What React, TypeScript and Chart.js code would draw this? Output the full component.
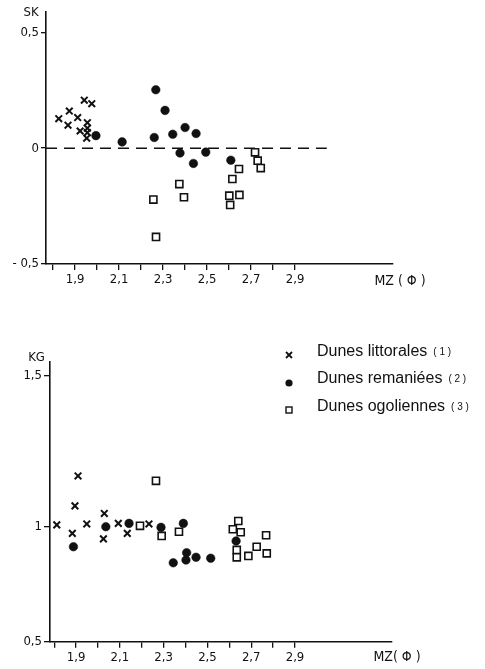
import React, { useEffect, useRef } from 'react';
import { Chart, registerables, LinearScale } from 'chart.js';

// ---------- DATA ----------
const MZ_TICKS = [1.8, 1.9, 2.0, 2.1, 2.2, 2.3, 2.4, 2.5, 2.6, 2.7, 2.8, 2.9];
const MZ_TICK_LABELS = ['', '1,9', '', '2,1', '', '2,3', '', '2,5', '', '2,7', '', '2,9'];
const SK_TICKS = [-0.5, 0, 0.5];
const SK_TICK_LABELS = ['- 0,5', '0', '0,5'];
const KG_TICKS = [0.5, 1, 1.5];
const KG_TICK_LABELS = ['0,5', '1', '1,5'];

const SERIES_NAMES = ['Dunes littorales', 'Dunes remaniées', 'Dunes ogoliennes'];
const SERIES_NUMS = ['( 1 )', '( 2 )', '( 3 )'];

// Graph 1: SK vs MZ
const SK_LITTORALES_MZ = [1.826, 1.874, 1.868, 1.912, 1.923, 1.942, 1.976, 1.956, 1.956, 1.956, 1.953];
const SK_LITTORALES_SK = [0.127, 0.160, 0.099, 0.132, 0.074, 0.207, 0.192, 0.110, 0.086, 0.067, 0.043];
const SK_REMANIEES_MZ = [1.995, 2.114, 2.267, 2.309, 2.26, 2.344, 2.4, 2.45, 2.377, 2.494, 2.438, 2.608];
const SK_REMANIEES_SK = [0.054, 0.027, 0.252, 0.163, 0.046, 0.060, 0.089, 0.063, -0.021, -0.017, -0.066, -0.052];
const SK_OGOLIENNES_MZ = [2.256, 2.268, 2.374, 2.395, 2.601, 2.605, 2.615, 2.645, 2.647, 2.718, 2.73, 2.744];
const SK_OGOLIENNES_SK = [-0.222, -0.383, -0.155, -0.212, -0.205, -0.245, -0.133, -0.09, -0.202, -0.018, -0.054, -0.086];
const SK_ZERO_LINE_MZ = [1.768, 3.044];

// Graph 2: KG vs MZ
const KG_LITTORALES_MZ = [1.812, 1.909, 1.895, 1.883, 1.949, 2.029, 2.025, 2.093, 2.134, 2.233];
const KG_LITTORALES_KG = [1.006, 1.168, 1.069, 0.971, 1.009, 1.044, 0.947, 1.011, 0.971, 1.009];
const KG_REMANIEES_MZ = [1.888, 2.036, 2.142, 2.288, 2.39, 2.344, 2.405, 2.402, 2.448, 2.515, 2.631];
const KG_REMANIEES_KG = [0.913, 1.0, 1.011, 0.997, 1.011, 0.843, 0.887, 0.855, 0.867, 0.863, 0.938];
const KG_OGOLIENNES_MZ = [2.192, 2.265, 2.291, 2.370, 2.641, 2.616, 2.652, 2.634, 2.634, 2.687, 2.725, 2.768, 2.771];
const KG_OGOLIENNES_KG = [1.003, 1.152, 0.960, 0.978, 1.019, 0.989, 0.976, 0.899, 0.867, 0.873, 0.913, 0.963, 0.884];

// The printed KG axis is drawn with a stretched upper part (1 -> 1,5 is longer than 0,5 -> 1)
const KG_BREAK = 1;
const KG_UPPER_STRETCH = 1.313;

const toVirtual = (v: number) => (v <= KG_BREAK ? v : KG_BREAK + (v - KG_BREAK) * KG_UPPER_STRETCH);
const fromVirtual = (v: number) => (v <= KG_BREAK ? v : KG_BREAK + (v - KG_BREAK) / KG_UPPER_STRETCH);

class KGScale extends LinearScale {
  static id = 'kgStretched';
  static defaults = LinearScale.defaults;
  getPixelForValue(value: any) {
    return super.getPixelForValue(toVirtual(value));
  }
  getValueForPixel(pixel: number) {
    return fromVirtual(super.getValueForPixel(pixel) as number);
  }
}

Chart.register(...registerables, KGScale);

const TICK_FONT = { family: "'Liberation Sans Narrow', 'DejaVu Sans Condensed', sans-serif", size: 13 };
const INK = '#111';

const zip = (xs: number[], ys: number[]) => xs.map((x, i) => ({ x, y: ys[i] }));

function seriesDatasets(lit: any[], rem: any[], ogo: any[]) {
  return [
    {
      label: SERIES_NAMES[0], data: lit, pointStyle: 'crossRot', pointRadius: 4.7,
      borderColor: INK, backgroundColor: INK, pointBorderWidth: 2, showLine: false,
    },
    {
      label: SERIES_NAMES[1], data: rem, pointStyle: 'circle', pointRadius: 4.3,
      borderColor: INK, backgroundColor: INK, pointBorderWidth: 0.5, showLine: false,
    },
    {
      label: SERIES_NAMES[2], data: ogo, pointStyle: 'rect', pointRadius: 5,
      borderColor: INK, backgroundColor: '#fff', pointBorderWidth: 1.6, showLine: false,
    },
  ];
}

function xScale(min: number, max: number, height: number) {
  return {
    type: 'linear', min, max,
    afterBuildTicks: (s: any) => { s.ticks = MZ_TICKS.map((v) => ({ value: v })); },
    afterFit: (s: any) => { s.height = height; },
    ticks: {
      autoSkip: false, maxRotation: 0, padding: 2, color: INK, font: TICK_FONT,
      callback: (_v: any, i: number) => MZ_TICK_LABELS[i],
    },
    grid: { drawOnChartArea: false, drawTicks: true, tickLength: 6, color: INK, tickColor: INK, lineWidth: 1.3 },
    border: { display: true, color: INK, width: 1.6 },
  };
}

function yTicks(labels: string[]) {
  return {
    autoSkip: false, padding: 2, color: INK, font: TICK_FONT,
    callback: (_v: any, i: number) => labels[i],
  };
}

const textPlugin = (id: string, items: { t: string; x: number; y: number; size: number }[]) => ({
  id,
  afterDraw(chart: any) {
    const ctx = chart.ctx;
    ctx.save();
    ctx.fillStyle = INK;
    ctx.textAlign = 'center';
    ctx.textBaseline = 'middle';
    items.forEach((it) => {
      ctx.font = `${it.size}px 'Liberation Sans Narrow', 'DejaVu Sans Condensed', sans-serif`;
      ctx.fillText(it.t, it.x, it.y);
    });
    ctx.restore();
  },
});

const legendPlugin = {
  id: 'paperLegend',
  afterDraw(chart: any) {
    const ctx = chart.ctx;
    const rows = [36, 63, 91];
    const mx = 289;
    ctx.save();
    ctx.fillStyle = INK;
    ctx.strokeStyle = INK;
    // markers
    ctx.lineWidth = 1.8;
    ctx.beginPath();
    ctx.moveTo(mx - 3, rows[0] - 4); ctx.lineTo(mx + 3, rows[0] + 2);
    ctx.moveTo(mx + 3, rows[0] - 4); ctx.lineTo(mx - 3, rows[0] + 2);
    ctx.stroke();
    ctx.beginPath();
    ctx.arc(mx, rows[1], 3.6, 0, Math.PI * 2);
    ctx.fill();
    ctx.lineWidth = 1.4;
    ctx.strokeRect(mx - 3, rows[2] - 4, 6, 6);
    // texts
    ctx.textAlign = 'left';
    ctx.textBaseline = 'alphabetic';
    rows.forEach((y, i) => {
      ctx.font = "16px 'Liberation Sans', Arial, sans-serif";
      ctx.fillText(SERIES_NAMES[i], 317, y);
      const w = ctx.measureText(SERIES_NAMES[i]).width;
      ctx.font = "10px 'Liberation Sans', Arial, sans-serif";
      ctx.fillText(SERIES_NUMS[i], 317 + w + 6, y - 1);
    });
    ctx.restore();
  },
};

function ChartCanvas({ config, width, height, top }: any) {
  const ref = useRef<HTMLCanvasElement>(null);
  useEffect(() => {
    const chart = new Chart(ref.current as HTMLCanvasElement, config);
    return () => chart.destroy();
  }, []);
  return (
    <canvas
      ref={ref}
      width={width}
      height={height}
      style={{ position: 'absolute', left: 0, top, width, height }}
    />
  );
}

export default function App() {
  const skConfig: any = {
    type: 'scatter',
    data: {
      datasets: [
        {
          type: 'line', label: 'zero', data: zip(SK_ZERO_LINE_MZ, [0, 0]), borderColor: INK,
          borderWidth: 1.5, borderDash: [11, 7], pointRadius: 0, showLine: true,
        },
        ...seriesDatasets(
          zip(SK_LITTORALES_MZ, SK_LITTORALES_SK),
          zip(SK_REMANIEES_MZ, SK_REMANIEES_SK),
          zip(SK_OGOLIENNES_MZ, SK_OGOLIENNES_SK),
        ),
      ],
    },
    options: {
      responsive: false, animation: false, devicePixelRatio: 1,
      layout: { padding: { top: 12, right: 92, bottom: 0, left: 0 } },
      plugins: { legend: { display: false }, tooltip: { enabled: false } },
      scales: {
        x: xScale(1.768, 3.345, 36),
        y: {
          type: 'linear', min: -0.5, max: 0.5876,
          afterBuildTicks: (s: any) => { s.ticks = SK_TICKS.map((v) => ({ value: v })); },
          afterFit: (s: any) => { s.width = 46; },
          ticks: yTicks(SK_TICK_LABELS),
          grid: { drawOnChartArea: false, drawTicks: true, tickLength: 5, color: INK, tickColor: INK, lineWidth: 1.3 },
          border: { display: true, color: INK, width: 1.6 },
        },
      },
    },
    plugins: [textPlugin('skTitles', [
      { t: 'SK', x: 31, y: 13, size: 13 },
      { t: 'MZ ( Φ )', x: 400, y: 281, size: 14 },
    ])],
  };

  const kgConfig: any = {
    type: 'scatter',
    data: {
      datasets: seriesDatasets(
        zip(KG_LITTORALES_MZ, KG_LITTORALES_KG),
        zip(KG_REMANIEES_MZ, KG_REMANIEES_KG),
        zip(KG_OGOLIENNES_MZ, KG_OGOLIENNES_KG),
      ),
    },
    options: {
      responsive: false, animation: false, devicePixelRatio: 1,
      layout: { padding: { top: 41.7, right: 93, bottom: 0, left: 0 } },
      plugins: { legend: { display: false }, tooltip: { enabled: false } },
      scales: {
        x: xScale(1.781, 3.343, 27.3),
        y: {
          type: 'kgStretched', min: 0.5, max: 1.7174,
          afterBuildTicks: (s: any) => { s.ticks = KG_TICKS.map((v) => ({ value: v })); },
          afterFit: (s: any) => { s.width = 50; },
          ticks: yTicks(KG_TICK_LABELS),
          grid: { drawOnChartArea: false, drawTicks: true, tickLength: 6, color: INK, tickColor: INK, lineWidth: 1.3 },
          border: { display: true, color: INK, width: 1.6 },
        },
      },
    },
    plugins: [
      textPlugin('kgTitles', [
        { t: 'KG', x: 36.5, y: 37.5, size: 13 },
        { t: 'MZ( Φ )', x: 397, y: 337, size: 14 },
      ]),
      legendPlugin,
    ],
  };

  return (
    <div style={{ position: 'absolute', left: 0, top: 0, width: 485, height: 669, background: '#fff' }}>
      <ChartCanvas config={skConfig} width={485} height={300} top={0} />
      <ChartCanvas config={kgConfig} width={485} height={349} top={320} />
    </div>
  );
}
